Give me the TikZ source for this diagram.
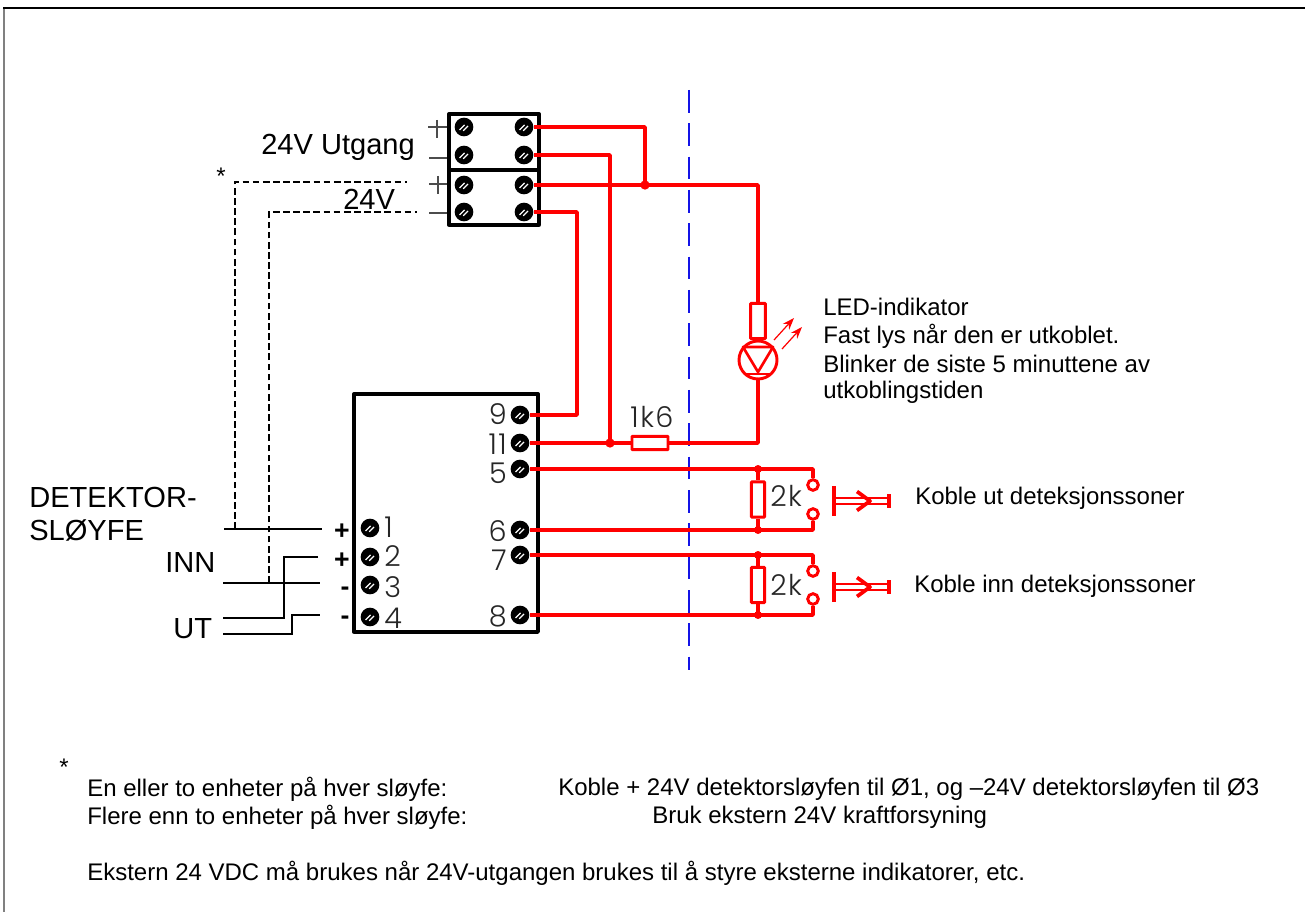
\documentclass[tikz,border=0pt]{standalone}
\usepackage{fontspec}
\setmainfont{Liberation Sans}
\newfontfamily\thinfont[LetterSpace=5]{Poppins Light}
\usetikzlibrary{arrows.meta}
\definecolor{wirered}{RGB}{255,0,0}
\definecolor{axisblue}{RGB}{20,20,230}
\tikzset{
	wire/.style={wirered,line width=2.8pt,line join=round},
	thinwire/.style={black,line width=0.9pt},
	loopdash/.style={black,line width=1.1pt,dash pattern=on 5pt off 2.6pt},
	housing/.style={black,line width=2.5pt,line join=round},
	terminal/.style={circle,fill=black,inner sep=0pt,minimum size=14pt,
		path picture={\draw[white,line width=0.9pt]
			([xshift=-3.4pt,yshift=-2.2pt]path picture bounding box.center) -- ++(3.8pt,3.8pt)
			([xshift=-0.6pt,yshift=-2.8pt]path picture bounding box.center) -- ++(3.6pt,3.6pt);}},
	junction/.style={circle,fill=wirered,inner sep=0pt,minimum size=7pt},
	contact/.style={circle,draw=wirered,fill=white,line width=2.2pt,inner sep=0pt,minimum size=8pt},
	resbox/.style={draw=wirered,line width=2.2pt,fill=white,inner sep=0pt,rounded corners=0.5pt},
	label/.style={inner sep=0pt,font=\fontsize{18pt}{21pt}\selectfont,anchor=west,text=black},
	biglabel/.style={inner sep=0pt,font=\fontsize{21.8pt}{25pt}\selectfont,anchor=west,text=black},
	digit/.style={inner sep=0pt,font=\thinfont\fontsize{21.5pt}{24pt}\selectfont,text=black!85,text height=13.5pt,text depth=0pt},
	polarity/.style={inner sep=0pt,font=\bfseries\fontsize{20pt}{22pt}\selectfont},
}
\begin{document}
\begin{tikzpicture}[x=0.75pt,y=-0.75pt]
	\useasboundingbox (0,0) rectangle (1305,912);
	% frame
	\draw[black!50,line width=1.5pt] (4,8) -- (4,912);
	\draw[black,line width=0.9pt] (1305,8) -- (3,8);
	% screw block
	\coordinate (p_plus_a) at (447,127);
	\coordinate (p_minus_a) at (447,158);
	\coordinate (p_plus_b) at (447,184);
	\coordinate (p_minus_b) at (447,213);
	\draw[housing,fill=white] (449,114) rectangle (539,225);
	\draw[housing] (449,170) -- (539,170);
	\draw[black!70,line width=0.8pt] (p_plus_a) -- ++(-19,0) (437,120) -- (437,138);
	\draw[black!70,line width=0.8pt] (p_minus_a) -- ++(-18,0);
	\draw[black!70,line width=0.8pt] (p_plus_b) -- ++(-18,0) (438,176) -- (438,194);
	\draw[black!70,line width=0.8pt] (p_minus_b) -- ++(-18,0);
	\foreach \name/\py in {a/127,b/155,c/185,d/212}{
		\node[terminal] (in_\name) at (464,\py) {};
		\node[terminal] (out_\name) at (524,\py) {};
	}
	% detector box
	\draw[housing] (354,394) rectangle (538,632);
	\foreach \name/\py/\ty in {9/415/415,11/443/445,5/469/474,6/530/532,7/555/561,8/615/617}{
		\node[terminal] (t_\name) at (520,\py) {};
		\node[digit,anchor=east] (n_\name) at (507,\ty) {\name};
	}
	\foreach \name/\py/\ty in {1/528/528,2/557/557,3/585/588,4/617/619}{
		\node[terminal] (t_\name) at (370,\py) {};
		\node[digit,anchor=west] (n_\name) at (384,\ty) {\name};
	}
	\node[polarity] (pol_1) at (342,532) {+};
	\node[polarity] (pol_2) at (342,561) {+};
	\node[polarity] (pol_3) at (345,591) {-};
	\node[polarity] (pol_4) at (345,620) {-};
	% axis
	\coordinate (axis_top) at (689,90);
	\coordinate (axis_bot) at (689,670);
	\draw[axisblue,line width=0.9pt,dash pattern=on 17pt off 8pt] (axis_top) -- (axis_bot);
	% red wiring
	\node[junction] (j_top) at (645,185) {};
	\node[junction] (j_res) at (610,443) {};
	\node[resbox,minimum width=27pt,minimum height=10pt] (r_1k6) at (650,443) {};
	\node[resbox,minimum width=11pt,minimum height=26.4pt] (r_led) at (758,321) {};
	\node[circle,draw=wirered,line width=2.2pt,fill=white,minimum size=28.5pt,inner sep=0pt] (led) at (758,360) {};
	\draw[wire] (out_a.east) -- (645,127) -- (j_top.center);
	\draw[wire] (out_b.east) -- (610,155) -- (j_res.center);
	\draw[wire] (out_c.east) -- (758,185) -- (r_led.north);
	\draw[wire] (out_d.east) -- (577,212) -- (577,415) -- (t_9.east);
	\draw[wire] (t_11.east) -- (r_1k6.west);
	\draw[wire] (r_1k6.east) -- (758,443) -- (led.south);
	\draw[wire] (r_led.south) -- (led.north);
	\draw[wire,line width=2pt] (743,347) -- (773,347) -- (758,372) -- cycle;
	\draw[wire,line width=2pt] (745,374) -- (771,374);
	\draw[wirered,line width=0.9pt,-{Stealth[length=9pt,width=6.5pt]}] (774,340) -- (794,318);
	\draw[wirered,line width=0.9pt,-{Stealth[length=9pt,width=6.5pt]}] (782,349) -- (802,327);
	\node[label] (led_txt) at (823,307) {LED-indikator};
	\node[label] (led_txt_b) at (823,336) {Fast lys når den er utkoblet.};
	\node[label] (led_txt_c) at (823,364) {Blinker de siste 5 minuttene av};
	\node[label] (led_txt_d) at (823,392) {utkoblingstiden};
	\node[digit] (n_1k6) at (652,418) {1k6};
	% switch groups
	\foreach \name/\ya/\yb/\ym/\yo in {u/469/530/497/501,i/555/615/586/587}{
		\node[junction,minimum size=6pt] (ja_\name) at (758,\ya) {};
		\node[junction,minimum size=6pt] (jb_\name) at (758,\yb) {};
		\node[resbox,minimum width=10pt,minimum height=26.4pt] (r_\name) at (758,\ya/2+\yb/2) {};
		\node[contact] (ca_\name) at (813,\ya+16) {};
		\node[contact] (cb_\name) at (813,\yb-16) {};
		\node[digit,anchor=west] (n_\name) at (770,\ym) {2k};
		\draw[wire] (ja_\name.center) -- (r_\name.north);
		\draw[wire] (jb_\name.center) -- (r_\name.south);
		\draw[wire] (ja_\name.center) -- (813,\ya) -- (ca_\name.north);
		\draw[wire] (jb_\name.center) -- (813,\yb) -- (cb_\name.south);
		% operator
		\coordinate (op_\name) at (834,\yo);
		\draw[wire] (op_\name) ++(0,-15) -- ++(0,30);
		\draw[wire] (op_\name) ++(55,-7) -- ++(0,14);
		\draw[wirered,line width=1.5pt] (op_\name) ++(0,-3) -- ++(55,0) ++(-55,6) -- ++(55,0);
		\draw[wire] (op_\name) ++(23,-9.5) -- ++(13,9.5) -- ++(-13,9.5);
	}
	\draw[wire] (t_5.east) -- (ja_u.center);
	\draw[wire] (t_6.east) -- (jb_u.center);
	\draw[wire] (t_7.east) -- (ja_i.center);
	\draw[wire] (t_8.east) -- (jb_i.center);
	\node[label] (sw_u) at (915,498) {Koble ut deteksjonssoner};
	\node[label] (sw_i) at (914,586) {Koble inn deteksjonssoner};
	% black loop wiring
	\coordinate (l_a) at (224,529);
	\coordinate (l_b) at (322,529);
	\coordinate (l_c) at (318,557);
	\coordinate (l_d) at (223,618);
	\coordinate (l_e) at (223,583);
	\coordinate (l_f) at (320,583);
	\coordinate (l_g) at (223,634);
	\coordinate (l_h) at (320,615);
	\coordinate (d_a) at (235,529);
	\coordinate (d_b) at (407,182);
	\coordinate (d_c) at (269,583);
	\coordinate (d_d) at (417,212);
	\draw[thinwire] (l_a) -- (l_b);
	\draw[thinwire] (l_c) -- (284,557) -- (284,618) -- (l_d);
	\draw[thinwire] (l_e) -- (l_f);
	\draw[thinwire] (l_g) -- (292,634) -- (292,615) -- (l_h);
	\draw[loopdash] (d_a) -- (235,182) -- (d_b);
	\draw[loopdash] (d_c) -- (269,212) -- (d_d);
	% labels
	\node[biglabel] (lb_utgang) at (261,147) {24V Utgang};
	\node[biglabel] (lb_24v) at (343,199) {24V};
	\node[inner sep=0pt,font=\fontsize{18pt}{20pt}\selectfont] (lb_star) at (221,176) {*};
	\node[biglabel] (lb_det) at (29,497) {DETEKTOR-};
	\node[biglabel] (lb_sl) at (29,530) {SLØYFE};
	\node[biglabel] (lb_inn) at (165,562) {INN};
	\node[biglabel] (lb_ut) at (173,629) {UT};
	% notes
	\node[inner sep=0pt,font=\fontsize{18pt}{20pt}\selectfont] (nt_star) at (64,767) {*};
	\node[label] (nt_a) at (87,789) {En eller to enheter på hver sløyfe:};
	\node[label] (nt_b) at (87,817) {Flere enn to enheter på hver sløyfe:};
	\node[label] (nt_c) at (558,789) {Koble + 24V detektorsløyfen til Ø1, og –24V detektorsløyfen til Ø3};
	\node[label] (nt_d) at (652,817) {Bruk ekstern 24V kraftforsyning};
	\node[label] (nt_e) at (87,873) {Ekstern 24 VDC må brukes når 24V-utgangen brukes til å styre eksterne indikatorer, etc.};
\end{tikzpicture}
\end{document}
